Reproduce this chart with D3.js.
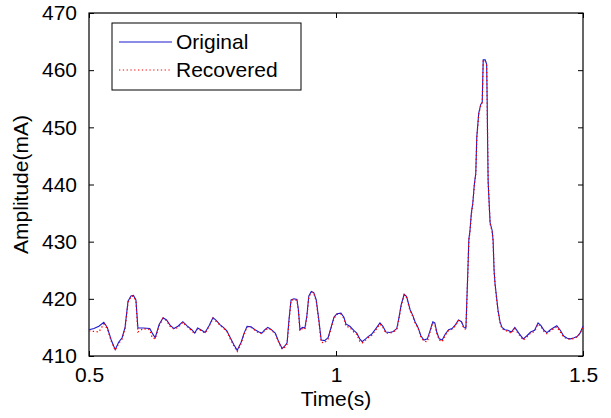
<!DOCTYPE html>
<html>
<head>
<meta charset="utf-8">
<script src="https://cdn.jsdelivr.net/npm/d3@7"></script>
<style>
  body { margin: 0; background: #fff; }
  svg { font-family: "Liberation Sans", Arial, sans-serif; }
</style>
</head>
<body>
<div id="chart"></div>
<script>
// data
var times = [
  0.500, 0.510, 0.520, 0.530, 0.537, 0.545, 0.553, 0.560, 0.567, 0.573,
  0.579, 0.585, 0.590, 0.595, 0.599, 0.610, 0.623, 0.628, 0.634, 0.642,
  0.650, 0.657, 0.664, 0.672, 0.680, 0.690, 0.698, 0.708, 0.714, 0.720,
  0.728, 0.735, 0.743, 0.751, 0.758, 0.765, 0.772, 0.779, 0.786, 0.793,
  0.800, 0.808, 0.814, 0.820, 0.828, 0.836, 0.844, 0.850, 0.856, 0.862,
  0.868, 0.877, 0.884, 0.891, 0.897, 0.901, 0.905, 0.909, 0.915, 0.921,
  0.924, 0.927, 0.932, 0.937, 0.941, 0.945, 0.950, 0.955, 0.960, 0.965,
  0.970, 0.977, 0.984, 0.990, 0.996, 1.002, 1.010, 1.016, 1.020, 1.028,
  1.036, 1.042, 1.048, 1.053, 1.060, 1.065, 1.072, 1.080, 1.089, 1.095,
  1.101, 1.109, 1.116, 1.123, 1.127, 1.132, 1.138, 1.143, 1.150, 1.155,
  1.160, 1.166, 1.172, 1.178, 1.185, 1.190, 1.196, 1.200, 1.204, 1.209,
  1.215, 1.221, 1.228, 1.235, 1.242, 1.248, 1.254, 1.259, 1.263, 1.265,
  1.267, 1.269, 1.271, 1.274, 1.277, 1.280, 1.283, 1.285, 1.289, 1.293,
  1.296, 1.298, 1.302, 1.305, 1.306, 1.307, 1.308, 1.311, 1.312, 1.316,
  1.318, 1.320, 1.322, 1.328, 1.332, 1.336, 1.342, 1.348, 1.355, 1.362,
  1.370, 1.379, 1.386, 1.394, 1.402, 1.409, 1.415, 1.421, 1.427, 1.434,
  1.441, 1.447, 1.454, 1.461, 1.468, 1.475, 1.482, 1.488, 1.494, 1.500
];

var original = [
  414.6, 414.8, 415.2, 415.9, 415.0, 412.8, 411.1, 412.4, 413.2, 415.0,
  419.6, 420.5, 420.6, 419.8, 414.9, 414.9, 414.8, 414.0, 413.2, 415.5,
  416.7, 416.3, 415.4, 414.8, 415.2, 416.0, 415.3, 414.6, 414.0, 414.9,
  414.5, 414.1, 415.3, 416.7, 416.2, 415.5, 415.0, 414.4, 413.2, 412.0,
  411.0, 412.4, 414.0, 415.2, 415.1, 414.6, 414.2, 414.0, 414.6, 415.0,
  414.7, 414.0, 412.5, 411.3, 411.8, 412.3, 416.5, 419.8, 420.0, 419.9,
  418.0, 414.6, 415.0, 414.9, 417.0, 420.5, 421.3, 421.1, 419.8, 416.5,
  412.8, 412.7, 413.2, 415.0, 416.8, 417.4, 417.5, 416.8, 415.6, 415.2,
  414.5, 414.0, 413.0, 412.5, 413.0, 413.4, 413.8, 414.7, 415.8, 415.2,
  414.2, 414.1, 414.3, 414.8, 416.5, 419.0, 420.8, 420.4, 418.1, 417.2,
  416.0, 415.0, 413.5, 412.8, 413.0, 414.3, 416.0, 415.8, 414.2, 413.0,
  412.8, 413.8, 414.6, 414.8, 415.5, 416.3, 416.0, 415.0, 414.9, 420.0,
  425.1, 430.5, 431.7, 435.0, 436.8, 440.0, 442.0, 448.3, 452.5, 454.0,
  454.4, 461.8, 461.8, 461.0, 454.8, 447.0, 440.5, 435.0, 433.3, 432.0,
  430.3, 425.0, 422.6, 418.0, 416.0, 415.0, 414.6, 414.5, 414.2, 415.0,
  414.0, 413.0, 413.5, 414.2, 414.5, 415.8, 415.3, 414.5, 414.1, 414.6,
  415.0, 415.3, 414.5, 413.5, 413.1, 413.0, 413.2, 413.4, 414.0, 415.2
];

var recovered = [
  414.4, 414.3, 414.2, 415.6, 414.8, 412.6, 411.0, 412.2, 413.0, 414.8,
  419.4, 420.4, 420.5, 419.6, 414.2, 414.8, 414.6, 413.2, 413.0, 415.3,
  416.6, 416.2, 415.2, 414.7, 415.0, 415.9, 415.2, 414.4, 413.9, 414.8,
  414.4, 414.0, 415.2, 416.6, 416.0, 415.4, 414.9, 414.3, 413.0, 411.8,
  410.8, 412.2, 413.8, 415.1, 415.0, 414.5, 414.0, 413.9, 414.5, 414.8,
  414.6, 413.9, 412.4, 411.2, 411.6, 412.1, 416.2, 419.7, 419.9, 419.7,
  417.8, 414.4, 414.8, 414.7, 416.8, 420.3, 421.2, 421.0, 419.6, 416.2,
  412.4, 412.3, 413.0, 414.8, 416.6, 417.3, 417.3, 416.6, 415.2, 415.0,
  414.2, 413.8, 412.6, 412.3, 412.8, 413.2, 413.6, 414.5, 415.6, 415.0,
  414.0, 414.0, 414.2, 414.6, 416.3, 418.8, 420.7, 420.2, 417.9, 417.0,
  415.8, 414.9, 413.3, 412.6, 412.5, 414.1, 415.9, 415.6, 414.0, 412.8,
  412.5, 413.6, 414.5, 414.7, 415.3, 416.2, 415.9, 414.8, 414.7, 419.8,
  425.0, 430.3, 431.6, 434.8, 436.7, 439.8, 441.9, 448.2, 452.3, 453.9,
  454.3, 461.7, 461.7, 460.8, 454.6, 446.8, 440.3, 434.8, 433.1, 431.8,
  430.1, 424.8, 422.4, 417.8, 415.8, 414.8, 414.5, 414.3, 414.0, 414.8,
  413.8, 412.8, 413.3, 414.0, 414.3, 415.6, 415.1, 414.3, 413.9, 414.4,
  414.8, 415.1, 414.2, 413.3, 413.0, 412.9, 413.1, 413.3, 413.9, 415.0
];

var xTicks = [0.5, 1, 1.5];
var yTicks = [410, 420, 430, 440, 450, 460, 470];

var svgWidth = 611;
var svgHeight = 418;
var margin = { top: 13, right: 28, bottom: 62, left: 89 };
var chartWidth = svgWidth - margin.left - margin.right;
var chartHeight = svgHeight - margin.top - margin.bottom;
var fontSize = 21;

var svg = d3.select("#chart")
  .append("svg")
  .attr("width", svgWidth)
  .attr("height", svgHeight);

var chartGroup = svg.append("g")
  .attr("transform", `translate(${margin.left}, ${margin.top})`);

var xScale = d3.scaleLinear().domain([0.5, 1.5]).range([0, chartWidth]);
var yScale = d3.scaleLinear().domain([410, 470]).range([chartHeight, 0]);

// axes, MATLAB style: inward ticks on all four sides
var bottomAxis = chartGroup.append("g")
  .attr("transform", `translate(0, ${chartHeight})`)
  .call(d3.axisBottom(xScale).tickValues(xTicks).tickFormat(d3.format("")).tickSizeInner(-5).tickSizeOuter(0).tickPadding(11));
var topAxis = chartGroup.append("g")
  .call(d3.axisTop(xScale).tickValues(xTicks).tickFormat("").tickSizeInner(-5).tickSizeOuter(0));
var leftAxis = chartGroup.append("g")
  .call(d3.axisLeft(yScale).tickValues(yTicks).tickSizeInner(-5).tickSizeOuter(0).tickPadding(12));
var rightAxis = chartGroup.append("g")
  .attr("transform", `translate(${chartWidth}, 0)`)
  .call(d3.axisRight(yScale).tickValues(yTicks).tickFormat("").tickSizeInner(-5).tickSizeOuter(0));

[bottomAxis, topAxis, leftAxis, rightAxis].forEach(function(ax) {
  ax.select(".domain").remove();
  ax.selectAll("line").attr("stroke", "#000");
  ax.selectAll("text")
    .attr("fill", "#000")
    .attr("font-size", fontSize)
    .attr("font-family", "Liberation Sans, Arial, sans-serif");
});

chartGroup.append("rect")
  .attr("x", 0)
  .attr("y", 0)
  .attr("width", chartWidth)
  .attr("height", chartHeight)
  .attr("fill", "none")
  .attr("stroke", "#000")
  .attr("stroke-width", 1.2);

// lines
var seriesOrig = times.map((t, i) => ({ t: t, v: original[i] }));
var seriesRec = times.map((t, i) => ({ t: t, v: recovered[i] }));

var line = d3.line()
  .x(d => xScale(d.t))
  .y(d => yScale(d.v));

chartGroup.append("path")
  .datum(seriesOrig)
  .attr("d", line)
  .attr("fill", "none")
  .attr("stroke", "#1a1ad0")
  .attr("stroke-width", 1.1);

chartGroup.append("path")
  .datum(seriesRec)
  .attr("d", line)
  .attr("fill", "none")
  .attr("stroke", "#ff0000")
  .attr("stroke-width", 1.3)
  .attr("stroke-dasharray", "1.3,2.5");

// axis titles
svg.append("text")
  .attr("x", margin.left + chartWidth / 2)
  .attr("y", 406)
  .attr("text-anchor", "middle")
  .attr("font-size", fontSize)
  .text("Time(s)");

svg.append("text")
  .attr("transform", `translate(28, ${margin.top + chartHeight / 2}) rotate(-90)`)
  .attr("text-anchor", "middle")
  .attr("font-size", fontSize)
  .text("Amplitude(mA)");

// legend
var legend = svg.append("g");
legend.append("rect")
  .attr("x", 112)
  .attr("y", 23)
  .attr("width", 189)
  .attr("height", 67)
  .attr("fill", "#fff")
  .attr("stroke", "#000")
  .attr("stroke-width", 1);

var legendItems = [
  { name: "Original", color: "#1a1ad0", dash: null, y: 42 },
  { name: "Recovered", color: "#ff0000", dash: "1.3,2.5", y: 70 }
];

legendItems.forEach(function(d) {
  legend.append("line")
    .attr("x1", 119)
    .attr("x2", 172)
    .attr("y1", d.y)
    .attr("y2", d.y)
    .attr("stroke", d.color)
    .attr("stroke-width", 1.2)
    .attr("stroke-dasharray", d.dash);
  legend.append("text")
    .attr("x", 176)
    .attr("y", d.y)
    .attr("dy", "0.35em")
    .attr("font-size", fontSize)
    .text(d.name);
});
</script>
</body>
</html>
